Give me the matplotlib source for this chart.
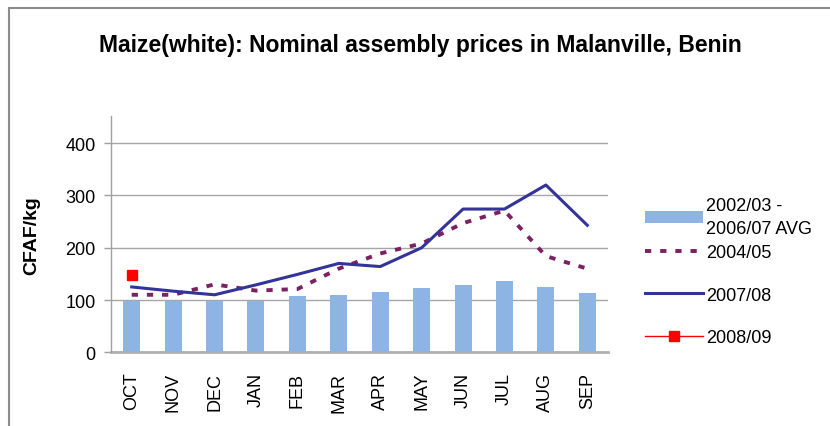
import matplotlib
matplotlib.use("Agg")
import matplotlib.pyplot as plt
from matplotlib.patches import Rectangle
import numpy as np

months = ["OCT", "NOV", "DEC", "JAN", "FEB", "MAR", "APR", "MAY", "JUN", "JUL", "AUG", "SEP"]
avg_0207 = [98, 98, 98, 98, 107, 110, 115, 123, 129, 136, 125, 113]
y2004_05 = [110, 110, 130, 118, 121, 160, 189, 208, 247, 271, 184, 160]
y2007_08 = [125, 117, 110, 129, 149, 170, 164, 200, 274, 274, 320, 243]
y2008_09 = [148]
yticks = [0, 100, 200, 300, 400]

plt.rcParams['font.family'] = ['Liberation Sans', 'DejaVu Sans']

fig = plt.figure(figsize=(8.3, 4.27), dpi=100)
ax = fig.add_axes([111/830, 1-353.3/427, (608-111)/830, (353.3-117)/427])

x = np.arange(len(months))
bar_c = '#8EB4E3'
hb = ax.bar(x, avg_0207, width=0.41, color=bar_c, zorder=2, label="2002/03 -\n2006/07 AVG")
h1, = ax.plot(x, y2004_05, color='#7B2062', lw=2.8, ls=(0, (1.6, 2.3)), dash_capstyle='butt',
              zorder=3, label="2004/05")
h2, = ax.plot(x, y2007_08, color='#333399', lw=2.2, zorder=4, label="2007/08")
h3, = ax.plot(x[:len(y2008_09)], y2008_09, color='red', lw=1, marker='s', markersize=6.5,
              zorder=5, label="2008/09")

ax.set_xlim(-0.5, 11.5)
ax.set_ylim(0, 452)
ax.set_yticks(yticks)
ax.set_yticklabels([str(v) for v in yticks], fontsize=13)
ax.set_xticks(x)
ax.set_xticklabels(months, rotation=90, fontsize=13)
ax.tick_params(axis='x', length=0, pad=14)
ax.tick_params(axis='y', length=5, width=1, color='#A0A0A0', pad=6)
ax.grid(axis='y', color='#A6A6A6', lw=1, zorder=0)
ax.set_axisbelow(True)
for s in ['top', 'right']:
    ax.spines[s].set_visible(False)
ax.spines['left'].set_color('#A0A0A0')
ax.spines['left'].set_linewidth(1)
ax.spines['bottom'].set_color('#B0B0B0')
ax.spines['bottom'].set_linewidth(2)
ax.spines['bottom'].set_zorder(1)

ax.set_ylabel("CFAF/kg", fontsize=14, fontweight='bold', labelpad=18)

fig.text(0.507, 0.893, "Maize(white): Nominal assembly prices in Malanville, Benin",
         ha='center', va='center', fontsize=16.5, fontweight='bold')

leg1 = ax.legend(handles=[hb], loc='upper left', bbox_to_anchor=(645/830, 1-198/427),
                 bbox_transform=fig.transFigure, frameon=False, fontsize=13,
                 handlelength=3.2, handletextpad=0.2, borderpad=0, borderaxespad=0)
leg1.get_texts()[0].set_linespacing(1.45)
ax.add_artist(leg1)
leg2 = ax.legend(handles=[h1, h2, h3], loc='upper left', bbox_to_anchor=(645/830, 1-245/427),
                 bbox_transform=fig.transFigure, frameon=False, fontsize=13,
                 handlelength=3.2, handletextpad=0.2, labelspacing=1.42,
                 borderpad=0, borderaxespad=0)

fig.patches.append(Rectangle((9/830, -0.1), 1.2, 1-9/427+0.1, transform=fig.transFigure,
                             fill=False, edgecolor='#8C8C8C', lw=1.5))

fig.savefig("out.png", dpi=100)
